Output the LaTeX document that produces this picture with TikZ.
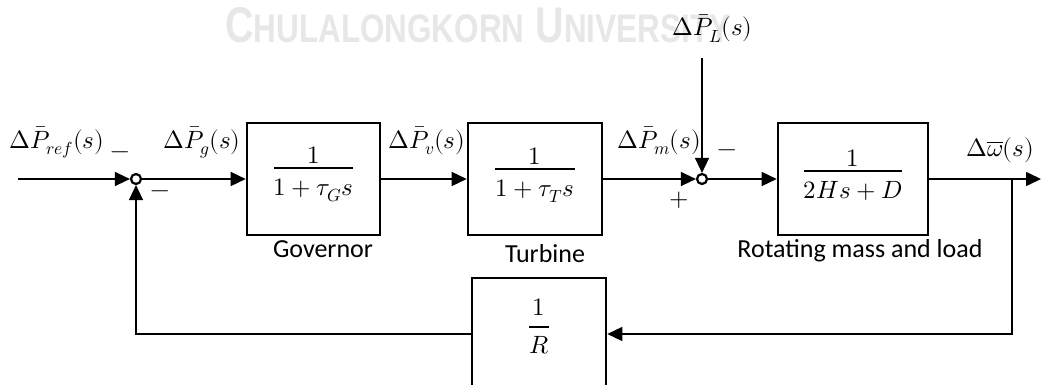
\documentclass[tikz,border=0pt]{standalone}
\usepackage{graphicx}
\usepackage{amsmath}
\usepackage{fontspec}
\usepackage{unicode-math}
\newfontfamily\carl{Carlito}
\newfontfamily\wmfont{Liberation Sans}[BoldFont={* Bold}]
\usetikzlibrary{arrows.meta}
\definecolor{wm}{RGB}{231,231,231}
\newcommand{\blkfrac}[4]{\genfrac{}{}{2.4pt}{0}{\raisebox{#3}[0pt][0pt]{$#1$}}{\raisebox{#4}[0pt][0pt]{$#2$}}}
\begin{document}
\begin{tikzpicture}[x=1pt,y=-1pt,
  blk/.style={draw, line width=2.6pt, minimum width=#1, minimum height=112pt, inner sep=0pt},
  sumj/.style={draw, circle, line width=2.2pt, minimum size=10pt, inner sep=0pt},
  conn/.style={line width=1.5pt},
  arr/.style={conn, -{Triangle[length=15pt,width=14pt]}},
  mlab/.style={inner sep=0pt, font=\fontsize{25}{30}\selectfont},
  tlab/.style={inner sep=0pt, font=\carl\fontsize{26}{30}\selectfont},
  frac/.style={inner sep=0pt, anchor=base, font=\fontsize{25}{30}\selectfont}
]
\useasboundingbox (0,0) rectangle (1041,385);
\fill[white] (0,0) rectangle (1041,385);
\clip (0,0) rectangle (1041,385);

% watermark
\node[anchor=base west, inner sep=0pt, text=wm] (wmark) at (225,43)
  {\resizebox{505pt}{35pt}{\wmfont\bfseries{\fontsize{49}{49}\selectfont C}{\fontsize{39}{39}\selectfont HULALONGKORN}\hspace{14pt}{\fontsize{49}{49}\selectfont U}{\fontsize{39}{39}\selectfont NIVERSITY}}};

% blocks
\node[blk=133pt] (gov) at (313.5,179) {};
\node[blk=134pt] (tur) at (535,179) {};
\node[blk=150pt] (rot) at (853,179) {};
\node[blk=134pt] (rb)  at (539,334) {};

\node[frac] (govf) at (313.5,174.25) {$\blkfrac{1}{1+\tau_G s}{-6.7pt}{-3.6pt}$};
\node[frac] (turf) at (535,175.25) {$\blkfrac{1}{1+\tau_T s}{-6.7pt}{-3.6pt}$};
\node[frac] (rotf) at (853,177.25) {$\blkfrac{1}{2Hs+D}{-6.7pt}{-3.6pt}$};
\node[frac] (rbf)  at (539,333.25) {$\blkfrac{1}{R}{1.3pt}{-2.6pt}$};

% summing junctions
\node[sumj] (c1) at (136,179) {};
\node[sumj] (c2) at (702,179) {};

% free ends
\coordinate (in) at (18,179);
\coordinate (out) at (1041,179);
\coordinate (br) at (1012,179);
\coordinate (pl) at (702,58);

% connectors
\draw[arr] (in) -- (c1.west);
\draw[arr] (c1.east) -- (gov.west);
\draw[arr] (gov.east) -- (tur.west);
\draw[arr] (tur.east) -- (c2.west);
\draw[arr] (c2.east) -- (rot.west);
\draw[arr] (rot.east) -- (out);
\draw[arr] (pl) -- (c2.north);
\draw[arr] (br) |- (rb.east);
\draw[arr] (rb.west) -| (c1.south);

% labels
\node[mlab, anchor=base west] (lref) at (9,148) {$\Delta\bar{P}_{ref}(s)$};
\node[mlab, anchor=base west] (lg) at (163,148) {$\Delta\bar{P}_{g}(s)$};
\node[mlab, anchor=base west] (lv) at (388,148) {$\Delta\bar{P}_{v}(s)$};
\node[mlab, anchor=base west] (lm) at (617,148) {$\Delta\bar{P}_{m}(s)$};
\node[mlab, anchor=base west] (lL) at (672,36) {$\Delta\bar{P}_{L}(s)$};
\node[mlab, anchor=base west] (lw) at (966,157) {$\Delta\overline{\omega}(s)$};

\node[mlab] (s1) at (120,155) {$-$};
\node[mlab] (s2) at (160,194) {$-$};
\node[mlab] (s3) at (727,153) {$-$};
\node[mlab] (s4) at (679,200) {$+$};

\node[tlab, anchor=base] (tgov) at (323,257) {Governor};
\node[tlab, anchor=base] (ttur) at (545,262) {Turbine};
\node[tlab, anchor=base] (trot) at (860,257) {Rotating mass and load};
\end{tikzpicture}
\end{document}
